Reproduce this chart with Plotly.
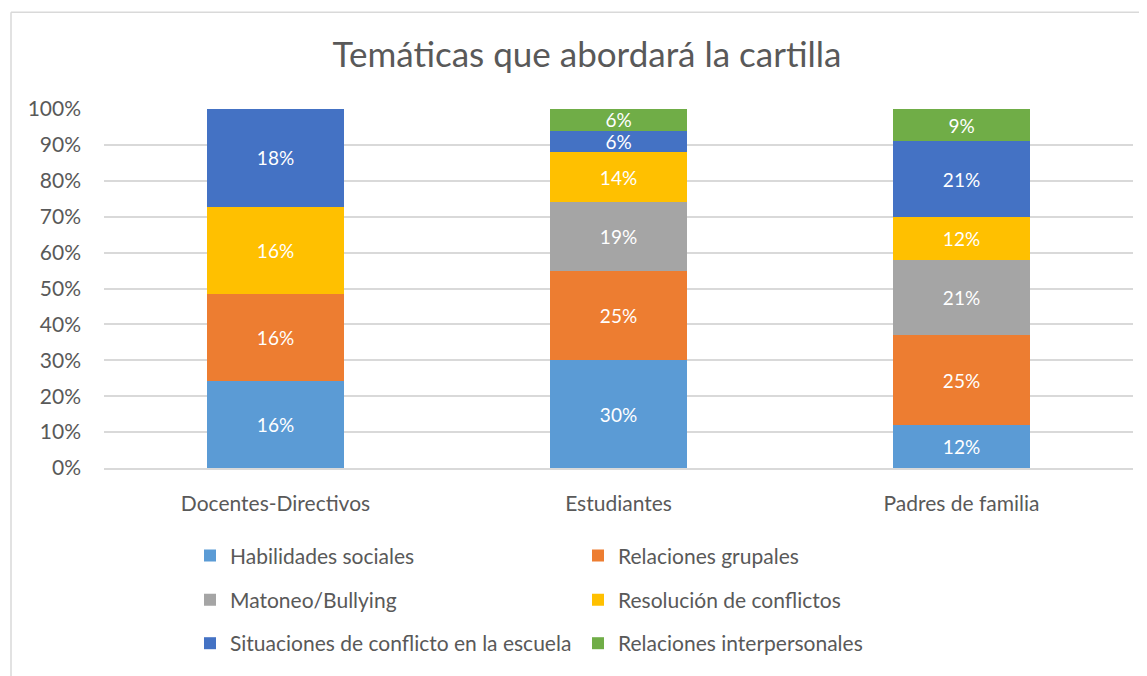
import plotly.graph_objects as go

categories = ["Docentes-Directivos", "Estudiantes", "Padres de familia"]
series_names = ["Habilidades sociales", "Relaciones grupales", "Matoneo/Bullying",
                "Resolución de conflictos", "Situaciones de conflicto en la escuela",
                "Relaciones interpersonales"]
habilidades = [16, 30, 12]
grupales = [16, 25, 25]
matoneo = [0, 19, 21]
resolucion = [16, 14, 12]
situaciones = [18, 6, 21]
interpersonales = [0, 6, 9]
series_values = [habilidades, grupales, matoneo, resolucion, situaciones, interpersonales]
colors = ["#5B9BD5", "#ED7D31", "#A5A5A5", "#FFC000", "#4472C4", "#70AD47"]
legend_ids = ["legend", "legend", "legend2", "legend2", "legend3", "legend3"]
y_ticks = list(range(0, 101, 10))

FONT = "Lato, Carlito, Calibri, sans-serif"
GRAY = "#595959"
OFF = 8  # page body margin

W, H = 1139, 668
# screen coords of plot area: x 104..1133, y 109..473
L, T = 104 - OFF, 109 - OFF
R = W - (1133 - OFF)
B = H - (473 - OFF)
PW, PH = W - L - R, H - T - B

def px_x(xs):
    return (xs - OFF - L) / PW

def px_y(ys):
    return (H - B - (ys - OFF)) / PH

fig = go.Figure()
for name, vals, col, lg in zip(series_names, series_values, colors, legend_ids):
    fig.add_trace(go.Bar(
        name=name, x=categories, y=vals,
        marker=dict(color=col, line=dict(width=0)),
        text=[f"{v}%" if v else "" for v in vals],
        texttemplate="%{text}",
        textposition="inside", insidetextanchor="middle",
        textangle=0, constraintext="none",
        textfont=dict(color="white", size=19, family=FONT),
        legend=lg, hoverinfo="skip",
    ))

legend_common = dict(orientation="h", entrywidth=343, entrywidthmode="pixels",
                     font=dict(size=21, color=GRAY, family=FONT),
                     bgcolor="rgba(0,0,0,0)", borderwidth=0,
                     xanchor="left", yanchor="middle", traceorder="normal")
lx = px_x(190)

fig.update_layout(
    width=W, height=H,
    barmode="stack", barnorm="percent", bargap=0.6,
    paper_bgcolor="white", plot_bgcolor="white",
    margin=dict(l=L, r=R, t=T, b=B),
    title=dict(text="Temáticas que abordará la cartilla", x=px_x(587), xanchor="center",
               xref="paper", y=1 - (55 - OFF) / H, yanchor="middle",
               font=dict(size=35, color=GRAY, family=FONT)),
    font=dict(family=FONT, color=GRAY, size=21),
    xaxis=dict(showgrid=False, showline=True, linecolor="#D9D9D9", linewidth=1.5,
               ticks="", tickfont=dict(size=21, color=GRAY), ticklabelstandoff=16),
    yaxis=dict(range=[0, 100], tickvals=y_ticks, ticktext=[f"{v}%" for v in y_ticks],
               showgrid=True, gridcolor="#D9D9D9", gridwidth=1.5, zeroline=False,
               ticks="", tickfont=dict(size=21, color=GRAY), ticklabelstandoff=22),
    legend=dict(x=lx, y=px_y(562), **legend_common),
    legend2=dict(x=lx, y=px_y(607), **legend_common),
    legend3=dict(x=lx, y=px_y(651), **legend_common),
    shapes=[
        dict(type="line", xref="paper", yref="paper", x0=px_x(11), x1=px_x(1160),
             y0=px_y(11), y1=px_y(11), line=dict(color="#D9D9D9", width=1.5)),
        dict(type="line", xref="paper", yref="paper", x0=px_x(11), x1=px_x(11),
             y0=px_y(11), y1=px_y(690), line=dict(color="#D9D9D9", width=1.5)),
    ],
)

fig.write_html("out.html")
